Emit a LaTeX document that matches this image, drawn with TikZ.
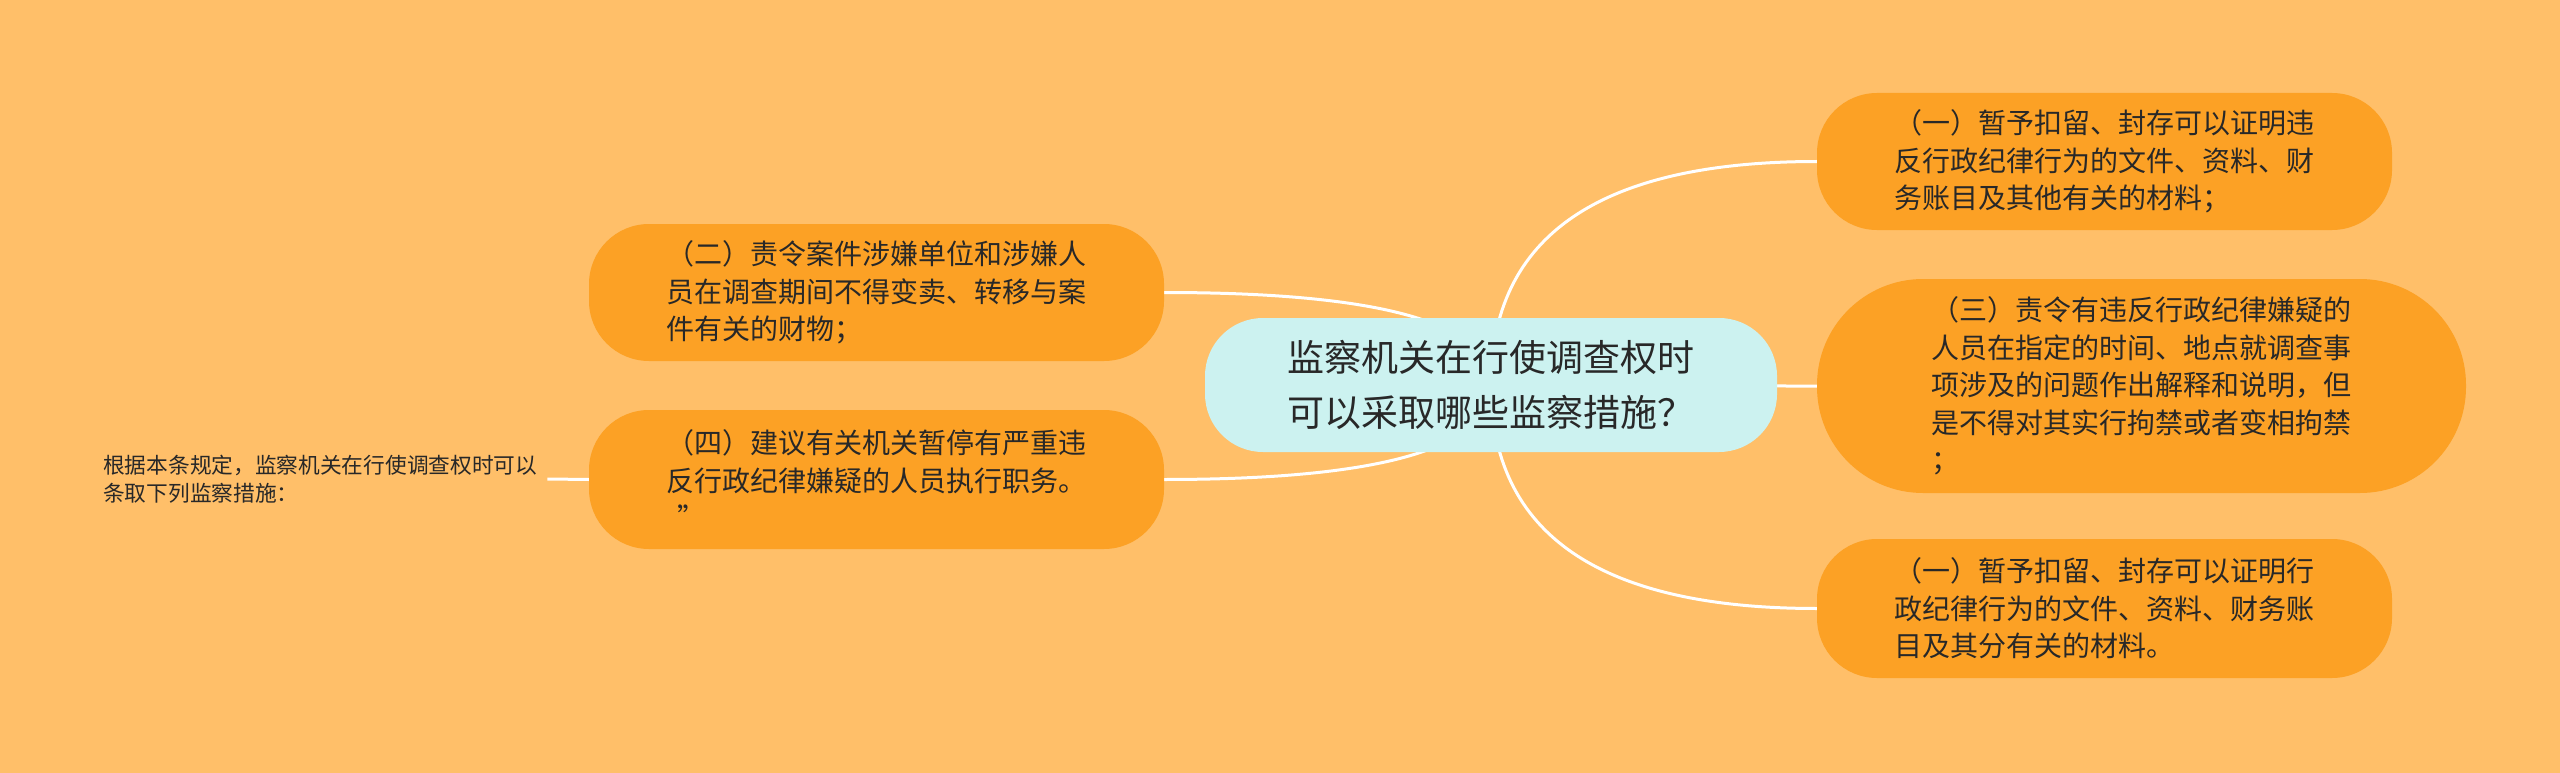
\documentclass[tikz,border=0pt]{standalone}
\usepackage{fontspec}
\newfontfamily\cjk{Noto Sans CJK SC}
\usetikzlibrary{calc}
\definecolor{bgc}{RGB}{255,191,105}
\definecolor{orangec}{RGB}{252,161,37}
\definecolor{centerc}{RGB}{204,242,240}
\definecolor{txtc}{RGB}{40,40,40}
\pgfdeclarelayer{edgelayer}
\pgfsetlayers{edgelayer,main}
\tikzset{
  topic/.style={rectangle, fill=orangec, text=txtc, inner sep=0pt, align=left,
    rounded corners=60pt, font={\cjk\fontsize{28}{37.5}\selectfont}},
  central/.style={rectangle, fill=centerc, text=txtc, inner sep=0pt, align=left,
    rounded corners=58pt, font={\cjk\fontsize{37}{55}\selectfont},
    minimum width=572pt, minimum height=134pt},
  plain/.style={text=txtc, align=left, inner xsep=10pt, inner ysep=0pt, anchor=west,
    font={\cjk\fontsize{21.7}{28}\selectfont}},
  edge/.style={draw=white, line width=3pt}
}
\begin{document}
\begin{tikzpicture}[x=1pt,y=-1pt]
\useasboundingbox (0,0) rectangle (2560,773);
\node[central] (c) at (1491,385) {监察机关在行使调查权时\\可以采取哪些监察措施？};
\node[topic, minimum width=575pt, minimum height=137pt] (r1) at (2104.5,161.5)
  {（一）暂予扣留、封存可以证明违\\反行政纪律行为的文件、资料、财\\务账目及其他有关的材料；};
\node[topic, minimum width=649pt, minimum height=214pt, rounded corners=106pt] (r2) at (2141.5,386)
  {（三）责令有违反行政纪律嫌疑的\\人员在指定的时间、地点就调查事\\项涉及的问题作出解释和说明，但\\是不得对其实行拘禁或者变相拘禁\\；};
\node[topic, minimum width=575pt, minimum height=139pt] (r3) at (2104.5,608.5)
  {（一）暂予扣留、封存可以证明行\\政纪律行为的文件、资料、财务账\\目及其分有关的材料。};
\node[topic, minimum width=575pt, minimum height=137pt] (l1) at (876.5,292.5)
  {（二）责令案件涉嫌单位和涉嫌人\\员在调查期间不得变卖、转移与案\\件有关的财物；};
\node[topic, minimum width=575pt, minimum height=139pt] (l2) at (876.5,479.5)
  {（四）建议有关机关暂停有严重违\\反行政纪律嫌疑的人员执行职务。\\\ \,”};
\node[plain] (t) at (93,479) {根据本条规定，监察机关在行使调查权时可以\\条取下列监察措施：};
\begin{pgfonlayer}{edgelayer}
\fill[bgc] (0,0) rectangle (2560,773);
\foreach \n in {r1,r2,r3,l1,l2}{
  \coordinate (k\n) at (c.center |- \n.west);
}
\foreach \n/\a in {r1/west,r2/west,r3/west,l1/east,l2/east}{
  \draw[edge] (c.center) .. controls ($(c.center)!0.6667!(k\n)$) and ($(\n.\a)!0.6667!(k\n)$) .. (\n.\a);
}
\draw[edge] (l2.west) -- (t.east);
\end{pgfonlayer}
\end{tikzpicture}
\end{document}
